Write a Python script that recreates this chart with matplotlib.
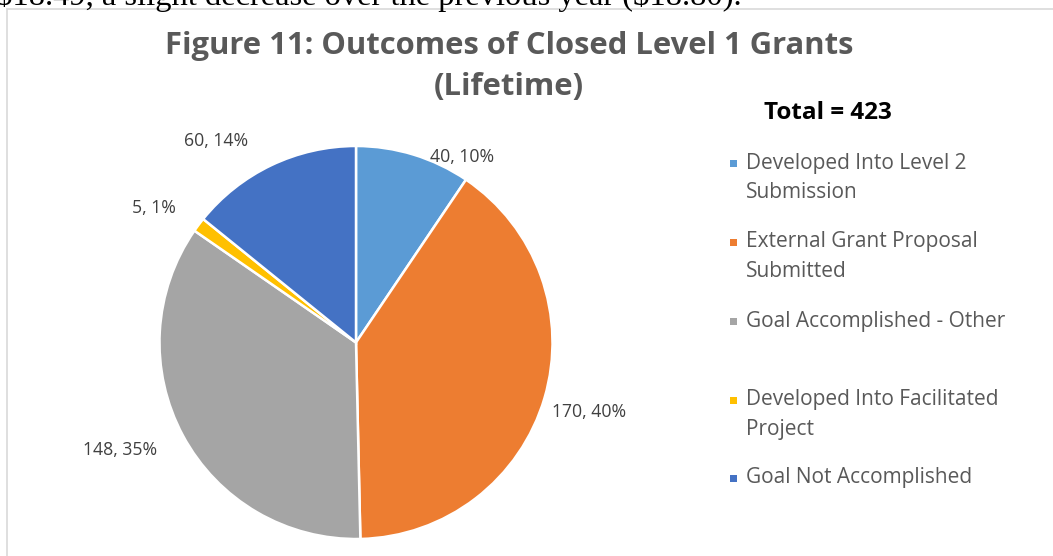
import matplotlib
matplotlib.use('Agg')
from matplotlib import pyplot as pl
from matplotlib.patches import Rectangle

# data
categories = [
    'Developed Into Level 2\nSubmission',
    'External Grant Proposal\nSubmitted',
    'Goal Accomplished - Other',
    'Developed Into Facilitated\nProject',
    'Goal Not Accomplished',
]
counts = [40, 170, 148, 5, 60]
pct_labels = ['10%', '40%', '35%', '1%', '14%']
total_text = 'Total = 423'
title_lines = ['Figure 11: Outcomes of Closed Level 1 Grants', '(Lifetime)']
body_text = '$18.49, a slight decrease over the previous year ($18.80).'

colors = ['#5B9BD5', '#ED7D31', '#A5A5A5', '#FFC000', '#4472C4']

# layout (pixels of the 1053x556 picture)
W, H = 1053, 556
cx, cy, rad = 356, 342.5, 196.5
label_pos = [(462, 157), (589, 412), (120, 450), (154, 208), (216, 141)]
title_y = [46, 87]
legend_y = [163, 242, 321, 400, 478]
line_gap = 29

fig = pl.figure(figsize=(W / 100, H / 100), dpi=100)

# text of the document above the chart, cut by the top edge
fig.text(-4 / W, 1 - 4.5 / H, body_text, family='Liberation Serif',
         fontsize=23.4, color='black', va='baseline', ha='left',
         parse_math=False)

# chart frame
fig.patches.append(Rectangle((7 / W, -0.1), 1.2, 1 - 9 / H + 0.1,
                             transform=fig.transFigure, facecolor='white',
                             edgecolor='#D9D9D9', linewidth=1.2, zorder=-5))

ax = fig.add_axes([(cx - rad) / W, (H - cy - rad) / H, 2 * rad / W, 2 * rad / H])
ax.set_zorder(1)
wedges, _ = ax.pie(counts, colors=colors, startangle=90, counterclock=False,
                   radius=1, wedgeprops=dict(edgecolor='white', linewidth=1.8))
ax.set_xlim(-1, 1)
ax.set_ylim(-1, 1)
ax.set_aspect('auto')
ax.axis('off')

for i in range(len(counts)):
    px, py = label_pos[i]
    fig.text(px / W, 1 - py / H, '%d, %s' % (counts[i], pct_labels[i]),
             family='Open Sans', fontsize=12.7, color='#404040',
             ha='center', va='center')

for t, ty in zip(title_lines, title_y):
    fig.text(509 / W, 1 - ty / H, t, family='Open Sans', weight='bold',
             fontsize=22.3, color='#595959', ha='center', va='center')
fig.text(828 / W, 1 - 113 / H, total_text, family='Open Sans', weight='bold',
         fontsize=17.5, color='black', ha='center', va='center')

for i, lab in enumerate(categories):
    y = legend_y[i]
    fig.patches.append(Rectangle((730 / W, 1 - (y + 4) / H), 7 / W, 7 / H,
                                 transform=fig.transFigure,
                                 facecolor=colors[i], edgecolor='none'))
    for j, part in enumerate(lab.split('\n')):
        fig.text(746 / W, 1 - (y + j * line_gap) / H, part, family='Open Sans',
                 fontsize=15, color='#595959', ha='left', va='center')

fig.savefig('out.png', dpi=100)
